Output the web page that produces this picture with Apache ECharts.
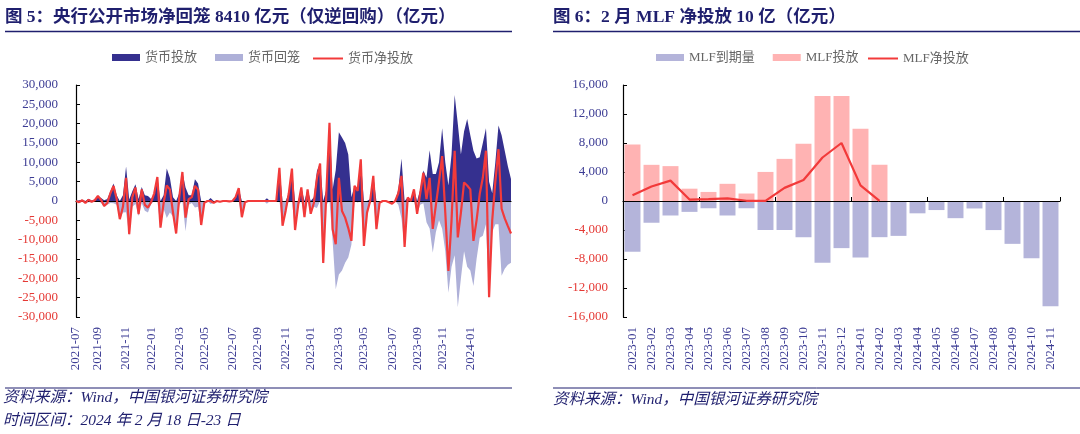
<!DOCTYPE html>
<html><head><meta charset="utf-8">
<script src="https://cdn.jsdelivr.net/npm/echarts/dist/echarts.min.js"></script>
<style>html,body{margin:0;padding:0;background:#fff}#c{width:1080px;height:434px}</style>
</head><body><div id="c"></div>
<script>
// ---------- Figure 5 : weekly open market operations (亿元) ----------
const tickLabels = ['2021-07','2021-09','2021-11','2022-01','2022-03','2022-05','2022-07','2022-09',
  '2022-11','2023-01','2023-03','2023-05','2023-07','2023-09','2023-11','2024-01'];
const tickIdx = [0,7,16,24,33,41,50,58,67,75,84,92,101,109,117,126];
const injection = [
  0,200,300,0,600,100,400,1300,800,200,
  500,2500,4500,1500,0,1500,8900,400,2500,4300,
  500,3600,1500,1300,500,2000,6200,0,1500,8400,
  6000,1000,0,2000,7500,3500,1500,1500,5600,4500,
  0,0,0,800,0,0,0,0,0,0,
  0,1000,3300,0,0,0,0,0,0,0,
  0,700,0,0,0,8600,0,0,2000,8400,
  0,0,3500,0,3000,0,1000,7800,9700,0,
  3000,20200,3000,8000,17800,16400,15000,12000,1000,4000,
  3000,10800,0,0,500,6500,0,0,0,0,
  0,0,0,3000,11000,0,900,0,3000,0,
  3000,7900,6000,13100,7000,7000,10000,18800,10000,4000,
  12000,27400,20000,12000,18000,21200,17000,13000,11000,11300,
  15000,18800,5000,2000,10000,19500,17000,13000,9000,5700];
const withdrawal = [
  0,-500,-100,-500,-300,-300,-200,0,-500,-1500,
  -1000,-500,-600,-1000,-4700,-3000,-2900,-9000,-1500,-800,
  -3900,-600,-2500,-3000,-800,0,0,-6900,-2000,-4400,
  -3000,-4000,-8400,-1000,0,-7800,-1000,-500,-1700,-1500,
  -6200,-500,0,-800,-500,0,-200,0,0,-100,
  0,0,0,-4200,-300,0,0,0,0,0,
  0,-700,0,0,0,0,-6400,-2500,0,0,
  -7500,-1000,0,-4200,0,-3300,-1500,-1800,0,-16400,
  -1000,0,-10300,-22800,-19000,-18000,-16000,-14600,-11300,0,
  -400,0,-11600,-3000,-500,0,-7300,-500,0,0,
  -300,-700,0,-1000,-4500,-11900,0,0,0,-3300,
  -1000,-600,-5500,-7100,-13400,-8000,-5000,-7200,-13000,-23700,
  -17000,-14000,-27500,-20000,-13000,-17000,-18000,-22000,-15000,-9500,
  -9000,-6000,-25000,-8000,-6000,-6000,-19300,-17500,-16500,-16000];
const netInjection = [
  0,-300,200,-500,300,-200,200,1300,300,-1300,
  -500,2000,3900,500,-4700,-1500,6000,-8600,1000,3500,
  -3400,3000,-1000,-1700,-300,2000,6200,-6900,-500,4000,
  3000,-3000,-8400,1000,7500,-4300,500,1000,3900,3000,
  -6200,-500,0,0,-500,0,-200,0,0,-100,
  0,1000,3300,-4200,-300,0,0,0,0,0,
  0,0,0,0,0,8600,-6400,-2500,2000,8400,
  -7500,-1000,3500,-4200,3000,-3300,-500,6000,9700,-16000,
  2000,20200,-7300,-11200,6000,-2600,-4300,-7000,-10300,3900,
  2600,10800,-11600,-3000,0,6500,-7300,-500,0,0,
  -300,-700,0,2000,6500,-11900,900,0,3000,-3300,
  2000,7300,500,6000,-7200,-1000,5000,11600,-3000,-18100,
  -5000,13000,-9400,-3000,4800,4000,3000,-10300,-5000,1800,
  6000,13000,-24900,-5000,5000,13400,-2000,-4500,-6500,-8410];
const weekCats = injection.map((_, i) => {
  const k = tickIdx.indexOf(i);
  return k >= 0 ? tickLabels[k] : 'w' + i;
});

// ---------- Figure 6 : MLF (亿元) ----------
const months = ['2023-01','2023-02','2023-03','2023-04','2023-05','2023-06','2023-07','2023-08',
  '2023-09','2023-10','2023-11','2023-12','2024-01','2024-02','2024-03','2024-04','2024-05',
  '2024-06','2024-07','2024-08','2024-09','2024-10','2024-11'];
const mlfMaturity = [-7000,-3000,-2000,-1500,-1000,-2000,-1000,-4000,-4000,-5000,-8500,-6500,
  -7790,-4990,-4810,-1700,-1250,-2370,-1030,-4010,-5910,-7890,-14500];
const mlfIssue = [7790,4990,4810,1700,1250,2370,1030,4010,5810,7890,14500,14500,9950,5000,
  null,null,null,null,null,null,null,null,null];
const mlfNet = [790,1990,2810,200,250,370,30,10,1810,2890,6000,8000,2160,10,
  null,null,null,null,null,null,null,null,null];

const BLUE = '#35308f', LAV = '#aeb0d8', RED = '#f23a3a', PINK = '#ffb3b3', LAVBAR = '#b4b4da';
const NAVY = '#1f1f6e', LBLUE = '#3c3c94', LRED = '#e53935';
const SERIF = '"Liberation Serif","Noto Sans CJK SC",serif';
const fmt = v => { v = Number(v); const s = String(Math.abs(v)).replace(/\B(?=(\d{3})+(?!\d))/g, ','); return (v < 0 ? '-' : '') + s; };
const ycol = v => Number(v) < 0 ? LRED : LBLUE;

const yAxisBase = (grid, min, max, interval, margin) => ({
  type: 'value', gridIndex: grid, min, max, interval,
  axisLine: { show: true, lineStyle: { color: '#000', width: 1.2 } },
  axisTick: { show: true, inside: true, length: 4, lineStyle: { color: '#000' } },
  splitLine: { show: false },
  axisLabel: { formatter: fmt, color: ycol, fontFamily: SERIF, fontSize: 13, margin }
});
const legendText = { fontSize: 13, color: '#666', fontFamily: SERIF };
const areaLegend = (left, names) => ({ left, top: 46, itemWidth: 28, itemHeight: 7, itemGap: 18,
  textStyle: legendText, data: names.map(n => ({ name: n, icon: 'rect' })) });
const lineLegend = (left, name) => ({ left, top: 46, itemWidth: 30, itemHeight: 2, padding: [6, 5, 5, 5],
  textStyle: legendText, data: [{ name, icon: 'rect' }] });

const chart = echarts.init(document.getElementById('c'), null, { renderer: 'canvas' });
chart.setOption({
  animation: false,
  backgroundColor: '#fff',
  grid: [
    { left: 76, top: 85, width: 435, height: 232, outerBoundsMode: 'none' },
    { left: 623, top: 85, width: 437, height: 232, outerBoundsMode: 'none' }
  ],
  legend: [
    areaLegend(107, ['货币投放', '货币回笼']),
    lineLegend(308, '货币净投放'),
    areaLegend(651, ['MLF到期量', 'MLF投放']),
    lineLegend(863, 'MLF净投放')
  ],
  xAxis: [
    { type: 'category', gridIndex: 0, position: 'top', data: weekCats, boundaryGap: false, z: 4,
      axisLine: { onZero: true, lineStyle: { color: '#000', width: 1.2 } },
      axisTick: { show: false }, axisLabel: { show: false } },
    { type: 'category', gridIndex: 0, position: 'bottom', data: weekCats, boundaryGap: false,
      axisLine: { show: false, onZero: false }, axisTick: { show: false },
      axisLabel: { rotate: 90, margin: 10, color: LBLUE, fontFamily: SERIF, fontSize: 13,
        interval: (i) => tickIdx.indexOf(i) >= 0 } },
    { type: 'category', gridIndex: 1, position: 'top', data: months, boundaryGap: true, z: 4,
      axisLine: { onZero: true, lineStyle: { color: '#000', width: 1.2 } },
      axisTick: { show: true, inside: false, length: 4, lineStyle: { color: '#000' } },
      axisLabel: { show: false } },
    { type: 'category', gridIndex: 1, position: 'bottom', data: months, boundaryGap: true,
      axisLine: { show: false, onZero: false }, axisTick: { show: false },
      axisLabel: { rotate: 90, margin: 10, interval: 0, color: LBLUE, fontFamily: SERIF, fontSize: 13 } }
  ],
  yAxis: [
    yAxisBase(0, -30000, 30000, 5000, 18),
    yAxisBase(1, -16000, 16000, 4000, 15)
  ],
  series: [
    { type: 'line', name: '货币回笼', xAxisIndex: 1, yAxisIndex: 0, data: withdrawal, symbol: 'none',
      lineStyle: { width: 0 }, itemStyle: { color: LAV }, areaStyle: { color: LAV, opacity: 1 }, z: 2 },
    { type: 'line', name: '货币投放', xAxisIndex: 1, yAxisIndex: 0, data: injection, symbol: 'none',
      lineStyle: { width: 0 }, itemStyle: { color: BLUE }, areaStyle: { color: BLUE, opacity: 1 }, z: 2 },
    { type: 'line', name: '货币净投放', xAxisIndex: 1, yAxisIndex: 0, data: netInjection, symbol: 'none',
      lineStyle: { width: 2.2, color: RED }, itemStyle: { color: RED }, z: 5 },
    { type: 'bar', name: 'MLF到期量', xAxisIndex: 3, yAxisIndex: 1, data: mlfMaturity, barWidth: '84%', barGap: '-100%',
      itemStyle: { color: LAVBAR }, z: 2 },
    { type: 'bar', name: 'MLF投放', xAxisIndex: 3, yAxisIndex: 1, data: mlfIssue, barWidth: '84%', barGap: '-100%',
      itemStyle: { color: PINK }, z: 2 },
    { type: 'line', name: 'MLF净投放', xAxisIndex: 3, yAxisIndex: 1, data: mlfNet, symbol: 'none',
      lineStyle: { width: 2.2, color: RED }, itemStyle: { color: RED }, z: 5 }
  ],
  graphic: [
    { type: 'text', x: 5, y: 17, style: { text: '图 5：央行公开市场净回笼 8410 亿元（仅逆回购）（亿元）',
      font: 'bold 17.5px ' + SERIF, fill: NAVY, verticalAlign: 'middle' } },
    { type: 'text', x: 553, y: 17, style: { text: '图 6：2 月 MLF 净投放 10 亿（亿元）',
      font: 'bold 17.5px ' + SERIF, fill: NAVY, verticalAlign: 'middle' } },
    { type: 'line', shape: { x1: 5, y1: 31.5, x2: 512, y2: 31.5 }, style: { stroke: NAVY, lineWidth: 1.5 } },
    { type: 'line', shape: { x1: 553, y1: 31.5, x2: 1080, y2: 31.5 }, style: { stroke: NAVY, lineWidth: 1.5 } },
    { type: 'line', shape: { x1: 5, y1: 388, x2: 512, y2: 388 }, style: { stroke: NAVY, lineWidth: 1 } },
    { type: 'line', shape: { x1: 553, y1: 388, x2: 1080, y2: 388 }, style: { stroke: NAVY, lineWidth: 1 } },
    { type: 'text', x: 3, y: 398, style: { text: '资料来源：Wind，中国银河证券研究院',
      font: 'italic 15.5px ' + SERIF, fill: NAVY, verticalAlign: 'middle' } },
    { type: 'text', x: 3, y: 421, style: { text: '时间区间：2024 年 2 月 18 日-23 日',
      font: 'italic 15.5px ' + SERIF, fill: NAVY, verticalAlign: 'middle' } },
    { type: 'text', x: 553, y: 400, style: { text: '资料来源：Wind，中国银河证券研究院',
      font: 'italic 15.5px ' + SERIF, fill: NAVY, verticalAlign: 'middle' } }
  ]
});
</script>
</body></html>
